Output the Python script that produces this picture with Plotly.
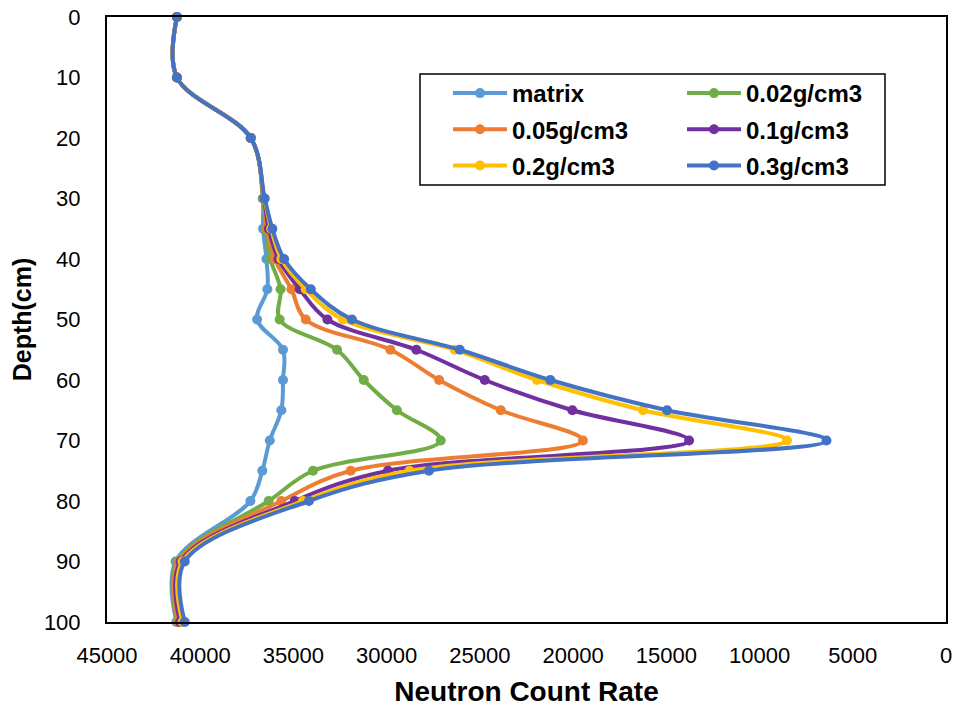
import plotly.graph_objects as go

# Depth of each measurement (cm)
depth = [0, 10, 20, 30, 35, 40, 45, 50, 55, 60, 65, 70, 75, 80, 90, 100]

# Neutron count rate profiles for each medium
matrix = [41250, 41250, 37290, 36650, 36630, 36450, 36400, 36950, 35560, 35560, 35650, 36270, 36670, 37310, 41320, 41280]
d002 = [41250, 41250, 37290, 36620, 36500, 36240, 35690, 35740, 32660, 31230, 29450, 27100, 33950, 36330, 41220, 41230]
d005 = [41250, 41250, 37290, 36600, 36420, 36000, 35110, 34340, 29800, 27190, 23880, 19470, 31930, 35650, 41150, 41170]
d01 = [41250, 41250, 37290, 36580, 36320, 35800, 34660, 33180, 28410, 24740, 20040, 13780, 29930, 34930, 41050, 41080]
d02 = [41250, 41250, 37290, 36560, 36200, 35650, 34340, 32340, 26350, 21940, 16250, 8530, 28770, 34490, 40950, 40950]
d03 = [41250, 41250, 37290, 36540, 36130, 35500, 34070, 31860, 26080, 21220, 14960, 6410, 27730, 34170, 40830, 40830]

x_ticks = [45000, 40000, 35000, 30000, 25000, 20000, 15000, 10000, 5000, 0]
y_ticks = [0, 10, 20, 30, 40, 50, 60, 70, 80, 90, 100]

series = [
    ("matrix", matrix, "#5B9BD5", "legend"),
    ("0.02g/cm3", d002, "#70AD47", "legend2"),
    ("0.05g/cm3", d005, "#ED7D31", "legend"),
    ("0.1g/cm3", d01, "#7030A0", "legend2"),
    ("0.2g/cm3", d02, "#FFC000", "legend"),
    ("0.3g/cm3", d03, "#4472C4", "legend2"),
]

FONT = "Liberation Sans, Arial, sans-serif"

fig = go.Figure()
for name, vals, color, leg in series:
    fig.add_trace(go.Scatter(
        x=vals, y=depth, name=name, mode="lines+markers",
        line=dict(color=color, width=4, shape="spline", smoothing=1.0),
        marker=dict(color=color, size=10),
        cliponaxis=False,
        legend=leg, legendgroup=name,
    ))

# plot-area geometry in pixels, used to place the legend frame
W, H = 956, 711
L, R, T, B = 107, 10, 17, 89
pw, ph = W - L - R, H - T - B


def px(xp):
    return (xp - L) / pw


def py(yp):
    return 1 - (yp - T) / ph


legend_common = dict(
    yanchor="top", xanchor="left", orientation="v",
    bgcolor="rgba(0,0,0,0)", borderwidth=0, itemwidth=54,
    traceorder="grouped", tracegroupgap=2,
    font=dict(family=FONT, size=24, color="black", weight="bold"),
)

fig.update_layout(
    width=W, height=H, autosize=False,
    margin=dict(l=L, r=R, t=T, b=B, pad=0, autoexpand=False),
    paper_bgcolor="white", plot_bgcolor="white",
    font=dict(family=FONT, color="black"),
    legend=dict(x=px(448), y=py(71), **legend_common),
    legend2=dict(x=px(682), y=py(71), **legend_common),
    shapes=[dict(
        type="rect", xref="paper", yref="paper",
        x0=px(420), x1=px(885), y0=py(185), y1=py(74),
        line=dict(color="black", width=1.5), fillcolor="rgba(0,0,0,0)",
    )],
    xaxis=dict(
        range=[45000, 0], tickvals=x_ticks, tickformat="d",
        showgrid=False, zeroline=False, ticks="", automargin=False,
        showline=True, mirror=True, linecolor="black", linewidth=2,
        tickfont=dict(family=FONT, size=22, color="black"),
        ticklabelstandoff=13,
        title=dict(text="Neutron Count Rate", standoff=14,
                   font=dict(family=FONT, size=28, color="black", weight="bold")),
    ),
    yaxis=dict(
        range=[100, 0], tickvals=y_ticks,
        showgrid=False, zeroline=False, ticks="", automargin=False,
        showline=True, mirror=True, linecolor="black", linewidth=2,
        tickfont=dict(family=FONT, size=22, color="black"),
        ticklabelstandoff=20,
        title=dict(text="Depth(cm)", standoff=5,
                   font=dict(family=FONT, size=25, color="black", weight="bold")),
    ),
)

fig.write_html("out.html")
